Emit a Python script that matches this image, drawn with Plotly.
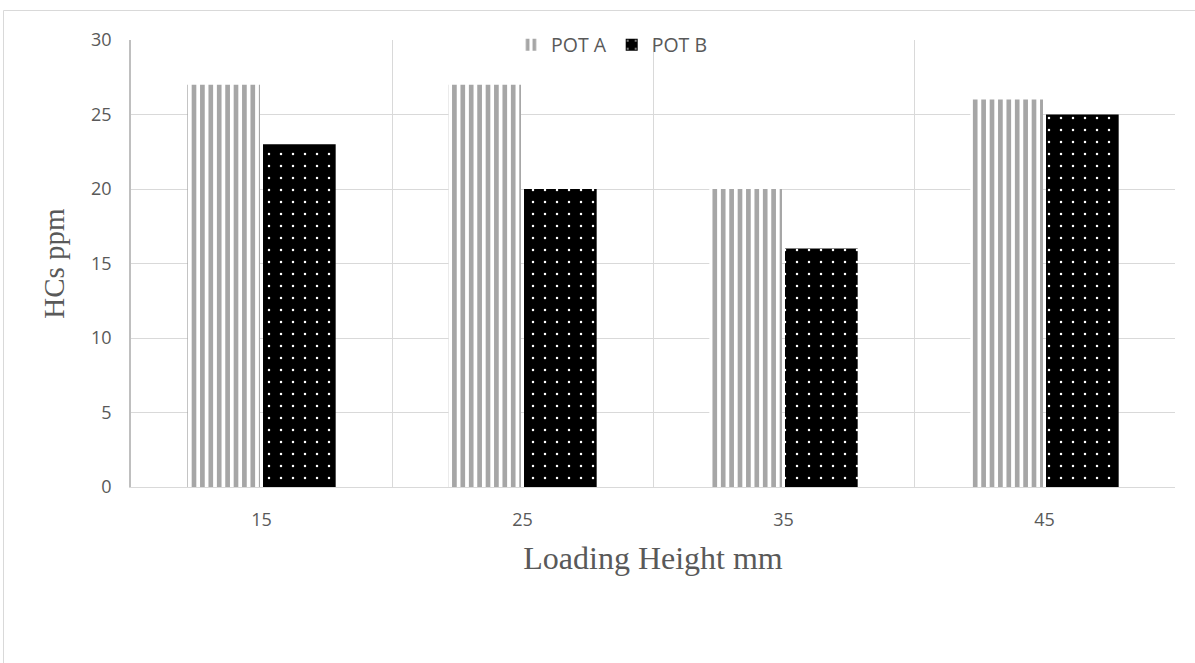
import plotly.graph_objects as go

categories = [15, 25, 35, 45]
pot_a = [27, 27, 20, 26]
pot_b = [23, 20, 16, 25]
y_ticks = [0, 5, 10, 15, 20, 25, 30]

W, H = 1195, 663
L, R, T, B = 131, 20, 40, 176
pw, ph = W - L - R, H - T - B

def px(x):
    return (x - L) / pw

def py(y):
    return (H - B - y) / ph

fig = go.Figure()
fig.add_trace(go.Bar(
    x=categories, y=pot_a, name="POT A",
    marker=dict(color="white", line=dict(width=0),
                pattern=dict(shape="|", fgcolor="#a6a6a6", bgcolor="white", fgopacity=1,
                             size=8.4, solidity=0.55, fillmode="overlay")),
))
fig.add_trace(go.Bar(
    x=categories, y=pot_b, name="POT B",
    marker=dict(color="black", line=dict(width=0),
                pattern=dict(shape=".", fgcolor="white", bgcolor="black", fgopacity=1,
                             size=12, solidity=0.035, fillmode="overlay")),
))

grid = "#d9d9d9"
fig.update_layout(
    width=W, height=H,
    margin=dict(l=L, r=R, t=T, b=B, pad=0),
    paper_bgcolor="white", plot_bgcolor="white",
    barmode="group", bargap=0.42, bargroupgap=0.04,
    font=dict(family="Open Sans", color="#595959", size=18),
    legend=dict(orientation="h", x=px(612), xanchor="center", y=py(45), yanchor="middle",
                bgcolor="rgba(0,0,0,0)", font=dict(size=19.5, color="#595959"),
                itemwidth=30, tracegroupgap=0),
    xaxis=dict(
        range=[10, 50], tickvals=categories, ticktext=[str(c) for c in categories],
        showgrid=False, zeroline=False, showline=True, linecolor=grid, linewidth=1,
        ticks="", ticklabelstandoff=16,
        minor=dict(tickvals=[10, 20, 30, 40, 50], showgrid=True, gridcolor=grid, gridwidth=1, ticks=""),
        title=dict(text="Loading Height mm", standoff=17,
                   font=dict(family="Liberation Serif", size=32, color="#595959")),
    ),
    yaxis=dict(
        range=[0, 30], tickvals=y_ticks, showgrid=True, gridcolor=grid, gridwidth=1,
        zeroline=False, showline=True, linecolor="#bfbfbf", linewidth=1.5, ticks="",
        ticklabelstandoff=14,
        title=dict(text="HCs ppm", standoff=18,
                   font=dict(family="Liberation Serif", size=29, color="#595959")),
    ),
    shapes=[dict(type="rect", xref="paper", yref="paper",
                 x0=px(3.5), x1=px(1210), y0=py(10.5), y1=py(700),
                 line=dict(color="#d9d9d9", width=1), fillcolor="rgba(0,0,0,0)", layer="below")],
)

fig.write_html("out.html")
